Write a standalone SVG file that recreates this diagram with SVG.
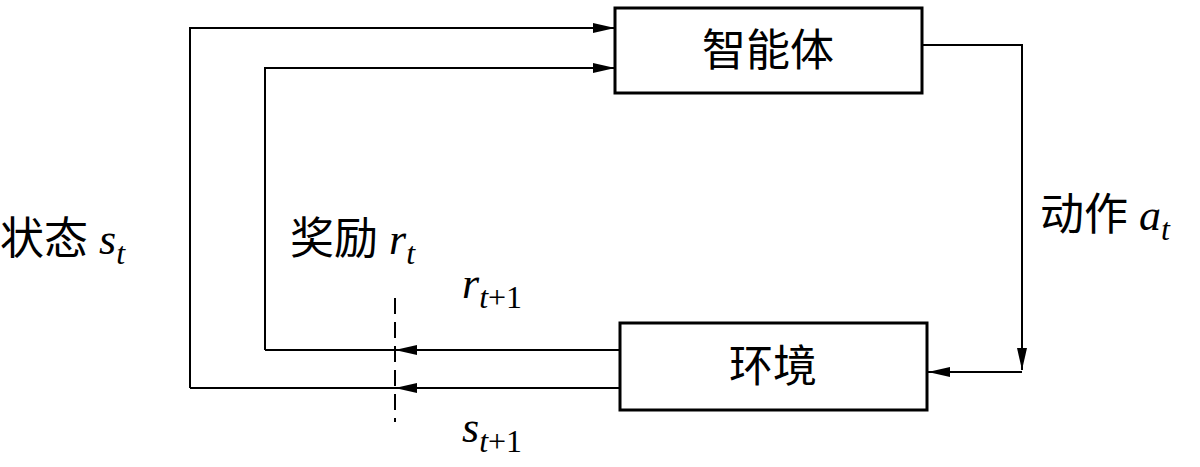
<svg xmlns="http://www.w3.org/2000/svg" width="1200" height="467" viewBox="0 0 1200 467">
<style>
.box{fill:#fff;stroke:#000;stroke-width:3}
.ln{fill:none;stroke:#000;stroke-width:2}
.cn{font-family:"Liberation Serif","Noto Sans CJK SC",serif;font-size:44px}
.it{font-family:"Liberation Serif",serif;font-style:italic;font-size:44px}
.sub{font-family:"Liberation Serif",serif;font-style:italic;font-size:32px}
.subn{font-family:"Liberation Serif",serif;font-size:32px}
</style>
<defs>
<marker id="ah" markerWidth="22" markerHeight="10" refX="22" refY="5" orient="auto" markerUnits="userSpaceOnUse">
<path d="M0,0 L22,5 L0,10 Z" fill="#000"/>
</marker>
</defs>
<rect width="1200" height="467" fill="#fff"/>
<g id="connectors">
<path class="ln" d="M190,388 V28 H615" marker-end="url(#ah)"/>
<path class="ln" d="M265,350 V68 H615" marker-end="url(#ah)"/>
<path class="ln" d="M620,350 H395" marker-end="url(#ah)"/>
<path class="ln" d="M395,350 H265"/>
<path class="ln" d="M620,388 H395" marker-end="url(#ah)"/>
<path class="ln" d="M395,388 H190"/>
<path class="ln" d="M922,45 H1022 V370" marker-end="url(#ah)"/>
<path class="ln" d="M1022,372 H928" marker-end="url(#ah)"/>
<path class="ln" d="M395,298 V422" stroke-dasharray="16,8"/>
</g>
<g id="agent">
<rect class="box" x="615" y="8" width="307" height="85"/>
<text class="cn" x="768" y="66" text-anchor="middle">智能体</text>
</g>
<g id="environment">
<rect class="box" x="620" y="323" width="307" height="87"/>
<text class="cn" x="773" y="382" text-anchor="middle">环境</text>
</g>
<g id="labels">
<text x="0" y="254"><tspan class="cn">状态 </tspan><tspan class="it">s</tspan><tspan class="sub" dy="10">t</tspan></text>
<text x="290" y="254"><tspan class="cn">奖励 </tspan><tspan class="it">r</tspan><tspan class="sub" dy="10">t</tspan></text>
<text x="1040" y="230"><tspan class="cn">动作 </tspan><tspan class="it">a</tspan><tspan class="sub" dy="10">t</tspan></text>
<text x="462" y="298"><tspan class="it">r</tspan><tspan class="sub" dy="10">t</tspan><tspan class="subn">+1</tspan></text>
<text x="462" y="442"><tspan class="it">s</tspan><tspan class="sub" dy="10">t</tspan><tspan class="subn">+1</tspan></text>
</g>
</svg>
